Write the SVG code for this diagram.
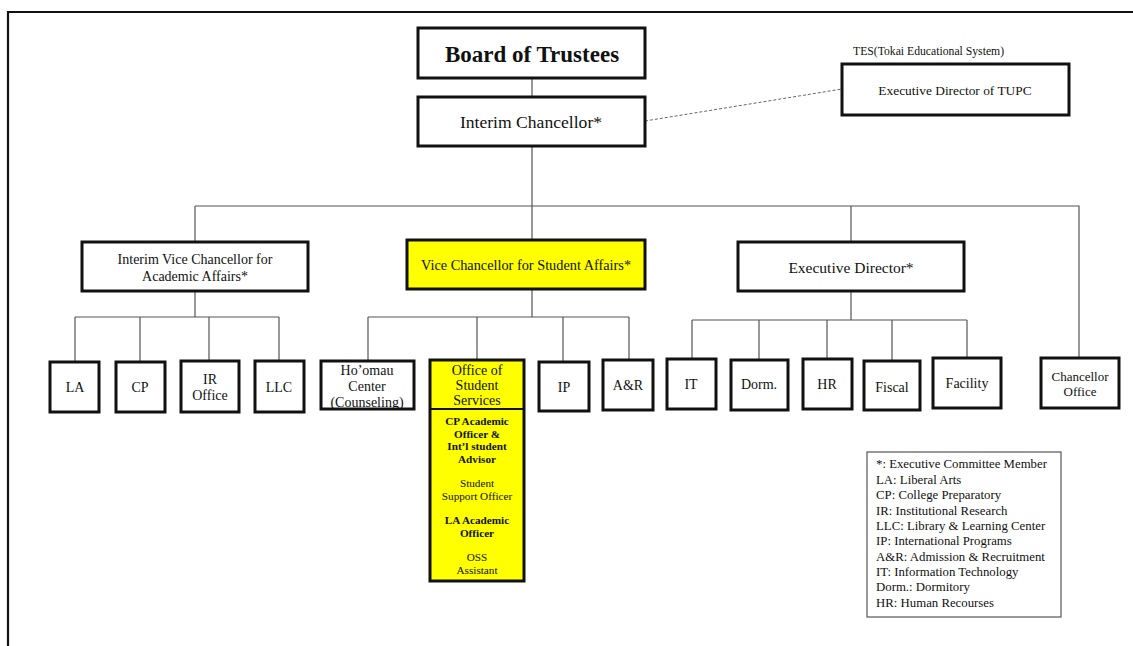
<svg xmlns="http://www.w3.org/2000/svg" width="1133" height="646" viewBox="0 0 1133 646">
<style>
.t{font-family:"Liberation Serif","Times New Roman",serif;fill:#111;text-anchor:middle}
.b{fill:#fff;stroke:#111;stroke-width:3}
.y{fill:#ffff00;stroke:#111;stroke-width:3}
.c{fill:none;stroke:#555;stroke-width:1.2}
.s14{font-size:14px}
.s10{font-size:11.2px}
.lg{font-family:"Liberation Serif","Times New Roman",serif;font-size:12.8px;fill:#111}
</style>
<rect width="1133" height="646" fill="#fff"/>
<path d="M8 646 V12 H1133" fill="none" stroke="#111" stroke-width="2.2"/>
<g id="connectors">
<path class="c" d="M532 78 V97 M532 146 V206 M195 206 H1079 V358 M195 206 V242 M532 206 V240 M851 206 V242"/>
<path class="c" d="M195 291 V317 M75 317 H279 M75 317 V362 M140 317 V362 M209 317 V360 M279 317 V361"/>
<path class="c" d="M532 289 V317 M368 317 H629 M368 317 V361 M477 317 V360 M563 317 V362 M629 317 V360"/>
<path class="c" d="M851 291 V320 M692 320 H967 M692 320 V359 M759 320 V360 M827 320 V359 M892 320 V361 M967 320 V358"/>
<path d="M645 121 L842 89" fill="none" stroke="#666" stroke-width="1" stroke-dasharray="3 2"/>
</g>
<g id="board"><rect class="b" x="418" y="28" width="227" height="50"/><text class="t" x="532" y="62" font-size="23" font-weight="bold">Board of Trustees</text></g>
<g id="chancellor"><rect class="b" x="418" y="97" width="227" height="49"/><text class="t" x="531" y="128" font-size="17.6">Interim Chancellor*</text></g>
<g id="tes"><text class="t" x="853" y="55" font-size="11.7" style="text-anchor:start">TES(Tokai Educational System)</text></g>
<g id="tupc"><rect class="b" x="842" y="64" width="227" height="51"/><text class="t" x="955" y="95" font-size="13.4">Executive Director of TUPC</text></g>
<g id="vcaa"><rect class="b" x="82" y="242" width="226" height="49"/><text class="t s14" x="195" y="264">Interim Vice Chancellor for</text><text class="t s14" x="195" y="281">Academic Affairs*</text></g>
<g id="vcsa"><rect class="y" x="407" y="240" width="238" height="49"/><text class="t" x="526" y="270" font-size="14.3">Vice Chancellor for Student Affairs*</text></g>
<g id="execdir"><rect class="b" x="738" y="242" width="226" height="49"/><text class="t" x="851" y="273" font-size="15.5">Executive Director*</text></g>
<g id="la"><rect class="b" x="50" y="362" width="49" height="50"/><text class="t s14" x="75" y="392">LA</text></g>
<g id="cp"><rect class="b" x="116" y="362" width="49" height="50"/><text class="t s14" x="140" y="392">CP</text></g>
<g id="ir"><rect class="b" x="181" y="361" width="58" height="51"/><text class="t s14" x="210" y="384">IR</text><text class="t s14" x="210" y="400">Office</text></g>
<g id="llc"><rect class="b" x="255" y="361" width="49" height="51"/><text class="t s14" x="279" y="392">LLC</text></g>
<g id="homau"><rect class="b" x="321" y="361" width="93" height="48"/><text class="t s14" x="367" y="375">Ho’omau</text><text class="t s14" x="367" y="391">Center</text><text class="t s14" x="367" y="407">(Counseling)</text></g>
<g id="oss"><rect class="y" x="430" y="360" width="94" height="221"/><line x1="430" y1="409" x2="524" y2="409" stroke="#111" stroke-width="2"/>
<text class="t s14" x="477" y="375">Office of</text><text class="t s14" x="477" y="390">Student</text><text class="t s14" x="477" y="405">Services</text>
<g font-weight="bold"><text class="t s10" x="477" y="425">CP Academic</text><text class="t s10" x="477" y="438">Officer &amp;</text><text class="t s10" x="477" y="450">Int’l student</text><text class="t s10" x="477" y="463">Advisor</text></g>
<text class="t s10" x="477" y="487">Student</text><text class="t s10" x="477" y="500">Support Officer</text>
<g font-weight="bold"><text class="t s10" x="477" y="524">LA Academic</text><text class="t s10" x="477" y="537">Officer</text></g>
<text class="t s10" x="477" y="561">OSS</text><text class="t s10" x="477" y="574">Assistant</text></g>
<g id="ip"><rect class="b" x="539" y="362" width="50" height="49"/><text class="t s14" x="564" y="392">IP</text></g>
<g id="ar"><rect class="b" x="603" y="360" width="50" height="50"/><text class="t s14" x="628" y="390">A&amp;R</text></g>
<g id="it"><rect class="b" x="667" y="359" width="49" height="50"/><text class="t s14" x="691" y="389">IT</text></g>
<g id="dorm"><rect class="b" x="731" y="360" width="57" height="50"/><text class="t s14" x="759" y="389">Dorm.</text></g>
<g id="hr"><rect class="b" x="803" y="359" width="49" height="50"/><text class="t s14" x="827" y="389">HR</text></g>
<g id="fiscal"><rect class="b" x="864" y="361" width="56" height="49"/><text class="t s14" x="892" y="392">Fiscal</text></g>
<g id="facility"><rect class="b" x="933" y="358" width="68" height="50"/><text class="t s14" x="967" y="388">Facility</text></g>
<g id="chanoffice"><rect class="b" x="1041" y="358" width="78" height="50"/><text class="t" x="1080" y="381" font-size="13">Chancellor</text><text class="t" x="1080" y="396" font-size="13">Office</text></g>
<g id="legend"><rect x="867" y="452" width="194" height="165" fill="#fff" stroke="#555" stroke-width="1.2"/>
<text class="lg" x="876" y="468">*: Executive Committee Member</text>
<text class="lg" x="876" y="484">LA: Liberal Arts</text>
<text class="lg" x="876" y="499">CP: College Preparatory</text>
<text class="lg" x="876" y="515">IR: Institutional Research</text>
<text class="lg" x="876" y="530">LLC: Library &amp; Learning Center</text>
<text class="lg" x="876" y="545">IP: International Programs</text>
<text class="lg" x="876" y="561">A&amp;R: Admission &amp; Recruitment</text>
<text class="lg" x="876" y="576">IT: Information Technology</text>
<text class="lg" x="876" y="591">Dorm.: Dormitory</text>
<text class="lg" x="876" y="607">HR: Human Recourses</text>
</g>
</svg>
